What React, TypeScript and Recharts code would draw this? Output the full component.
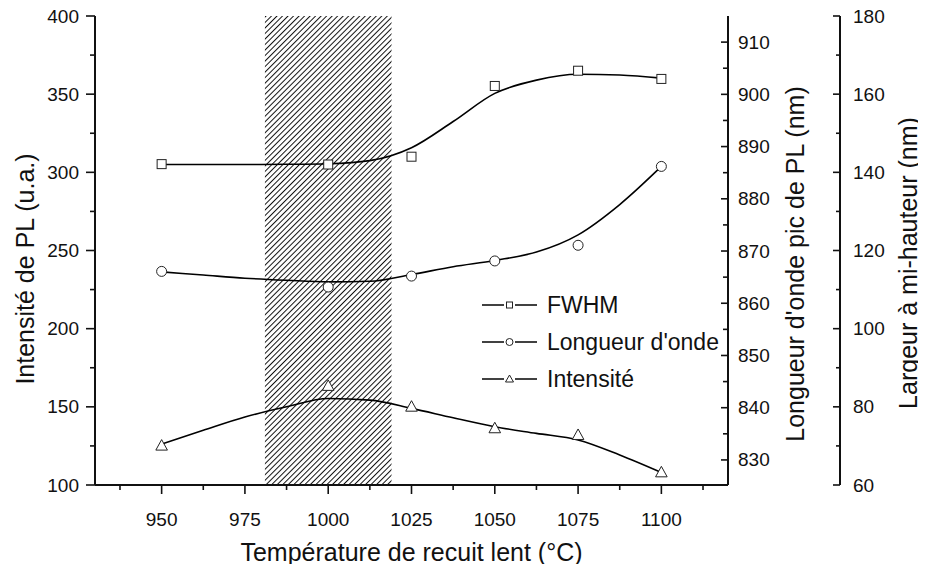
import React from "react";
import { ComposedChart, Line, XAxis, YAxis, ReferenceArea } from "recharts";

// ---- data ----
const temps = [950, 1000, 1025, 1050, 1075, 1100];
const intensite = [125.2, 163.4, 150.1, 136.3, 132.0, 108.1];
const longueurOnde = [866.1, 863.1, 865.2, 868.1, 871.1, 886.2];
const fwhm = [142.1, 142.0, 144.0, 162.1, 166.0, 163.9];

// smoothed fit curves
const fitTemps = [950, 962.5, 975, 987.5, 1000, 1012.5, 1025, 1037.5, 1050, 1062.5, 1075, 1087.5, 1100];
const intensiteFit = [126.2, 135.0, 143.5, 150.0, 155.3, 154.3, 149.0, 143.0, 137.3, 133.0, 128.8, 119.2, 108.0];
const longueurFit = [866.0, 865.4, 864.8, 864.4, 864.1, 864.2, 865.5, 867.0, 868.2, 869.8, 873.1, 878.9, 886.2];
const fwhmFit = [142.0, 142.0, 142.0, 142.05, 142.2, 143.0, 146.3, 153.0, 160.2, 163.6, 165.1, 164.9, 164.1];

const hatchFrom = 981;
const hatchTo = 1019;

const xTicks = [937.5, 950, 962.5, 975, 987.5, 1000, 1012.5, 1025, 1037.5, 1050, 1062.5, 1075, 1087.5, 1100, 1112.5];
const xMajor = [950, 975, 1000, 1025, 1050, 1075, 1100];
const intTicks = [100, 125, 150, 175, 200, 225, 250, 275, 300, 325, 350, 375, 400];
const intMajor = [100, 150, 200, 250, 300, 350, 400];
const nmTicks = [830, 835, 840, 845, 850, 855, 860, 865, 870, 875, 880, 885, 890, 895, 900, 905, 910];
const nmMajor = [830, 840, 850, 860, 870, 880, 890, 900, 910];
const fwTicks = [60, 70, 80, 90, 100, 110, 120, 130, 140, 150, 160, 170, 180];
const fwMajor = [60, 80, 100, 120, 140, 160, 180];

const legendLabels = ["FWHM", "Longueur d'onde", "Intensité"];
const xTitle = "Température de recuit lent (°C)";
const yLeftTitle = "Intensité de PL (u.a.)";
const yNmTitle = "Longueur d'onde pic de PL (nm)";
const yFwTitle = "Largeur à mi-hauteur (nm)";

const pts = (xs: number[], ys: number[]) => xs.map((t, i) => ({ t, v: ys[i] }));

const FONT = "'Liberation Sans', Arial, sans-serif";
const INK = "#111";

const BottomTick = (p: any) => {
  const { x, y, payload } = p;
  const major = xMajor.includes(payload.value);
  return (
    <g>
      <line x1={x} x2={x} y1={y} y2={y + (major ? 9 : 5)} stroke={INK} strokeWidth={1.6} />
      {major && (
        <text x={x} y={y + 34} textAnchor="middle" dominantBaseline="central" fontFamily={FONT} fontSize={19} fill={INK}>
          {payload.value}
        </text>
      )}
    </g>
  );
};

const TopTick = (p: any) => {
  const { x, y, payload } = p;
  const major = xMajor.includes(payload.value);
  return <line x1={x} x2={x} y1={y} y2={y + (major ? 9 : 5)} stroke={INK} strokeWidth={1.6} />;
};

const LeftTick = (p: any) => {
  const { x, y, payload } = p;
  const major = intMajor.includes(payload.value);
  return (
    <g>
      <line x1={x - (major ? 9 : 5)} x2={x} y1={y} y2={y} stroke={INK} strokeWidth={1.6} />
      {major && (
        <text x={x - 16} y={y} textAnchor="end" dominantBaseline="central" fontFamily={FONT} fontSize={19} fill={INK}>
          {payload.value}
        </text>
      )}
    </g>
  );
};

const NmTick = (p: any) => {
  const { x, y, payload } = p;
  const major = nmMajor.includes(payload.value);
  return (
    <g>
      <line x1={x - (major ? 7 : 5)} x2={x} y1={y} y2={y} stroke={INK} strokeWidth={1.6} />
      {major && (
        <text x={x + 10} y={y} textAnchor="start" dominantBaseline="central" fontFamily={FONT} fontSize={19} fill={INK}>
          {payload.value}
        </text>
      )}
    </g>
  );
};

const FwTick = (p: any) => {
  const { x, y, payload } = p;
  const major = fwMajor.includes(payload.value);
  return (
    <g>
      <line x1={x - (major ? 7 : 4)} x2={x} y1={y} y2={y} stroke={INK} strokeWidth={1.6} />
      {major && (
        <text x={x + 13} y={y} textAnchor="start" dominantBaseline="central" fontFamily={FONT} fontSize={19} fill={INK}>
          {payload.value}
        </text>
      )}
    </g>
  );
};

const SquareDot = (p: any) => {
  const { cx, cy } = p;
  if (cx == null || cy == null) return <g />;
  return <rect x={cx - 4.5} y={cy - 4.5} width={9} height={9} fill="#fff" stroke="#222" strokeWidth={1} />;
};
const CircleDot = (p: any) => {
  const { cx, cy } = p;
  if (cx == null || cy == null) return <g />;
  return <circle cx={cx} cy={cy} r={5} fill="#fff" stroke="#222" strokeWidth={1} />;
};
const TriDot = (p: any) => {
  const { cx, cy } = p;
  if (cx == null || cy == null) return <g />;
  return (
    <path d={`M${cx},${cy - 6} L${cx + 5.8},${cy + 4.5} L${cx - 5.8},${cy + 4.5} Z`} fill="#fff" stroke="#222" strokeWidth={1} />
  );
};

const axisLine = { stroke: INK, strokeWidth: 2 };

export default function App() {
  const W = 926;
  const H = 564;
  const legendRows = [305, 342, 379];
  return (
    <div style={{ position: "relative", width: W, height: H, marginTop: -8, marginLeft: -8 }}>
      <ComposedChart width={W} height={H} margin={{ top: 16, right: 0, bottom: 0, left: 0 }}>
        <XAxis
          xAxisId="b"
          dataKey="t"
          type="number"
          domain={[930, 1120]}
          ticks={xTicks}
          interval={0}
          allowDataOverflow
          height={79}
          tickSize={0}
          tickMargin={0}
          tickLine={false}
          axisLine={axisLine}
          tick={(p: any) => <BottomTick {...p} />}
        />
        <XAxis
          xAxisId="top"
          orientation="top"
          dataKey="t"
          type="number"
          domain={[930, 1120]}
          ticks={xTicks}
          interval={0}
          allowDataOverflow
          height={0}
          tickSize={0}
          tickMargin={0}
          tickLine={false}
          axisLine={axisLine}
          tick={(p: any) => <TopTick {...p} />}
        />
        <YAxis
          yAxisId="l0"
          orientation="left"
          type="number"
          domain={[100, 400]}
          ticks={intTicks}
          interval={0}
          allowDataOverflow
          width={95}
          tickSize={0}
          tickMargin={0}
          tickLine={false}
          axisLine={axisLine}
          tick={(p: any) => <LeftTick {...p} />}
        />
        <YAxis
          yAxisId="r1"
          orientation="right"
          type="number"
          domain={[825.2, 915]}
          ticks={nmTicks}
          interval={0}
          allowDataOverflow
          width={112}
          tickSize={0}
          tickMargin={0}
          tickLine={false}
          axisLine={axisLine}
          tick={(p: any) => <NmTick {...p} />}
        />
        <YAxis
          yAxisId="r2"
          orientation="right"
          type="number"
          domain={[60, 180]}
          ticks={fwTicks}
          interval={0}
          allowDataOverflow
          width={86}
          tickSize={0}
          tickMargin={0}
          tickLine={false}
          axisLine={axisLine}
          tick={(p: any) => <FwTick {...p} />}
        />
        <ReferenceArea
          xAxisId="b"
          yAxisId="l0"
          x1={hatchFrom}
          x2={hatchTo}
          y1={100}
          y2={400}
          fill="url(#hatchPattern)"
          fillOpacity={1}
          stroke="none"
          ifOverflow="hidden"
        />
        <Line xAxisId="b" yAxisId="r2" data={pts(fitTemps, fwhmFit)} dataKey="v" type="monotone" stroke="#000" strokeWidth={1.6} dot={false} isAnimationActive={false} />
        <Line xAxisId="b" yAxisId="r1" data={pts(fitTemps, longueurFit)} dataKey="v" type="monotone" stroke="#000" strokeWidth={1.6} dot={false} isAnimationActive={false} />
        <Line xAxisId="b" yAxisId="l0" data={pts(fitTemps, intensiteFit)} dataKey="v" type="monotone" stroke="#000" strokeWidth={1.6} dot={false} isAnimationActive={false} />
        <Line
          xAxisId="b"
          yAxisId="r2"
          data={pts(temps, fwhm)}
          dataKey="v"
          stroke="none"
          isAnimationActive={false}
          dot={(p: any) => <SquareDot key={`s${p.index}`} {...p} />}
        />
        <Line
          xAxisId="b"
          yAxisId="r1"
          data={pts(temps, longueurOnde)}
          dataKey="v"
          stroke="none"
          isAnimationActive={false}
          dot={(p: any) => <CircleDot key={`c${p.index}`} {...p} />}
        />
        <Line
          xAxisId="b"
          yAxisId="l0"
          data={pts(temps, intensite)}
          dataKey="v"
          stroke="none"
          isAnimationActive={false}
          dot={(p: any) => <TriDot key={`t${p.index}`} {...p} />}
        />
      </ComposedChart>
      <svg width={W} height={572} style={{ position: "absolute", left: 0, top: 0, pointerEvents: "none" }}>
        <defs>
          <pattern id="hatchPattern" width={3.9} height={3.9} patternUnits="userSpaceOnUse" patternTransform="rotate(45)">
            <line x1={0.5} y1={0} x2={0.5} y2={3.9} stroke="#111" strokeWidth={1.0} />
          </pattern>
        </defs>
        <text x={411.5} y={552} textAnchor="middle" dominantBaseline="central" fontFamily={FONT} fontSize={25} fill={INK}>
          {xTitle}
        </text>
        <text
          transform="translate(25,269) rotate(-90)"
          textAnchor="middle"
          dominantBaseline="central"
          fontFamily={FONT}
          fontSize={25}
          fill={INK}
        >
          {yLeftTitle}
        </text>
        <text
          transform="translate(795,264) rotate(-90)"
          textAnchor="middle"
          dominantBaseline="central"
          fontFamily={FONT}
          fontSize={25}
          fill={INK}
        >
          {yNmTitle}
        </text>
        <text
          transform="translate(908,263) rotate(-90)"
          textAnchor="middle"
          dominantBaseline="central"
          fontFamily={FONT}
          fontSize={25}
          fill={INK}
        >
          {yFwTitle}
        </text>
        {legendRows.map((ly, i) => (
          <g key={i}>
            <line x1={482} x2={504} y1={ly} y2={ly} stroke={INK} strokeWidth={1.6} />
            <line x1={515} x2={537} y1={ly} y2={ly} stroke={INK} strokeWidth={1.6} />
            {i === 0 && <rect x={506.5} y={ly - 3} width={6} height={6} fill="#fff" stroke="#222" strokeWidth={1} />}
            {i === 1 && <circle cx={509.5} cy={ly} r={3.5} fill="#fff" stroke="#222" strokeWidth={1} />}
            {i === 2 && <path d={`M509.5,${ly - 4} L513.5,${ly + 3} L505.5,${ly + 3} Z`} fill="#fff" stroke="#222" strokeWidth={1} />}
            <text x={547} y={ly} dominantBaseline="central" fontFamily={FONT} fontSize={23} fill={INK}>
              {legendLabels[i]}
            </text>
          </g>
        ))}
      </svg>
    </div>
  );
}
